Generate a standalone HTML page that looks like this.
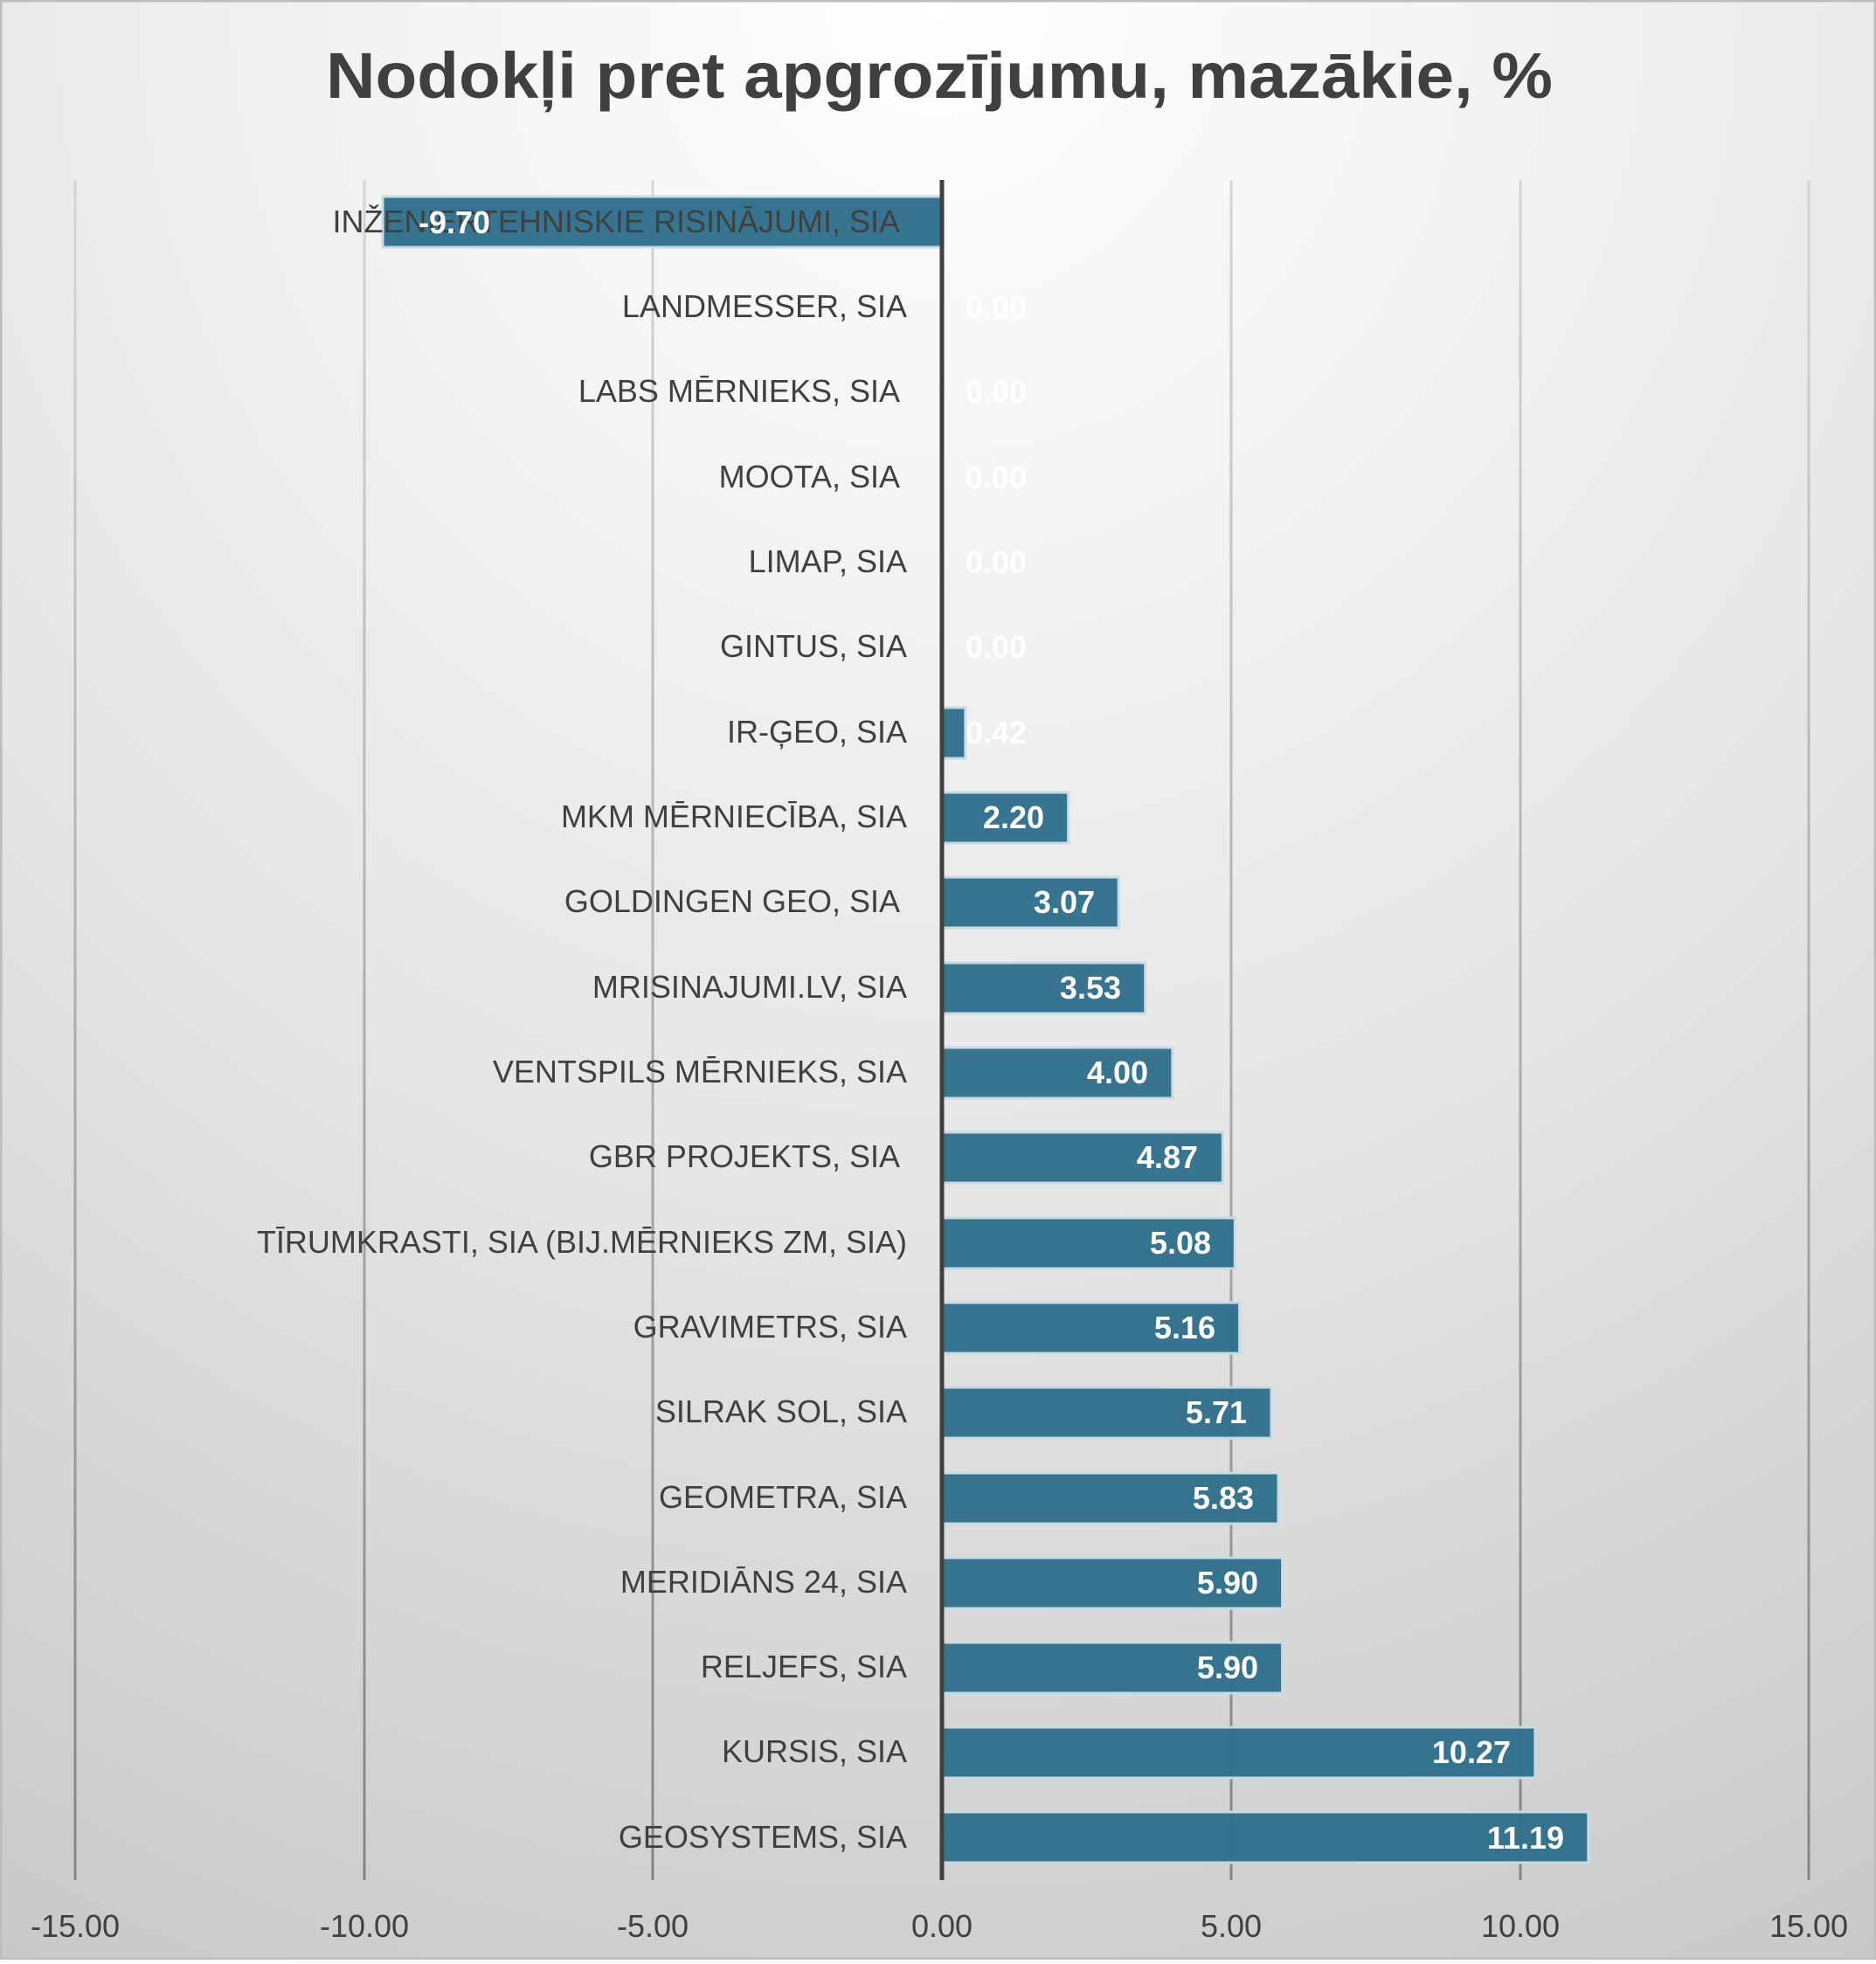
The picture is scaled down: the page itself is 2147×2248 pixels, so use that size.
<!DOCTYPE html>
<html><head><meta charset="utf-8"><style>
html,body{margin:0;padding:0;}
body{width:2147px;height:2243px;overflow:hidden;}
</style></head><body>
<svg width="2147" height="2243" xmlns="http://www.w3.org/2000/svg" font-family="Liberation Sans, sans-serif">
<defs>
<radialGradient id="bg" cx="50%" cy="0%" r="120%" fx="50%" fy="0%">
<stop offset="0" stop-color="#ffffff"/>
<stop offset="0.5" stop-color="#e6e6e6"/>
<stop offset="1" stop-color="#c4c4c4"/>
</radialGradient>
<linearGradient id="gl" gradientUnits="userSpaceOnUse" x1="0" y1="206" x2="0" y2="2152">
<stop offset="0" stop-color="#d6d6d6"/>
<stop offset="1" stop-color="#858585"/>
</linearGradient>
</defs>
<rect x="0" y="0" width="2147" height="2243" fill="url(#bg)"/>
<rect x="1" y="1" width="2145" height="2241" fill="none" stroke="#bdbdbd" stroke-width="3"/>
<text x="1075" y="112" text-anchor="middle" font-size="74" font-weight="bold" fill="#404040" textLength="1404" lengthAdjust="spacingAndGlyphs">Nodokļi pret apgrozījumu, mazākie, %</text>
<g stroke="url(#gl)" stroke-width="3">
<line x1="86" y1="206" x2="86" y2="2152"/>
<line x1="417" y1="206" x2="417" y2="2152"/>
<line x1="747" y1="206" x2="747" y2="2152"/>
<line x1="1409" y1="206" x2="1409" y2="2152"/>
<line x1="1740" y1="206" x2="1740" y2="2152"/>
<line x1="2070" y1="206" x2="2070" y2="2152"/>
</g>
<g fill="#30708c" stroke="#c8dbe4" stroke-width="3" fill-opacity="0.97">
<rect x="438" y="225" width="639" height="58"/>
<rect x="1077" y="810" width="27.8" height="58"/>
<rect x="1077" y="907" width="145.6" height="58"/>
<rect x="1077" y="1004" width="203.2" height="58"/>
<rect x="1077" y="1102" width="233.7" height="58"/>
<rect x="1077" y="1199" width="264.8" height="58"/>
<rect x="1077" y="1296" width="322.4" height="58"/>
<rect x="1077" y="1394" width="336.3" height="58"/>
<rect x="1077" y="1491" width="341.6" height="58"/>
<rect x="1077" y="1588" width="378" height="58"/>
<rect x="1077" y="1686" width="386" height="58"/>
<rect x="1077" y="1783" width="390.6" height="58"/>
<rect x="1077" y="1880" width="390.6" height="58"/>
<rect x="1077" y="1977" width="679.9" height="58"/>
<rect x="1077" y="2074" width="740.8" height="58"/>
</g>
<line x1="1078" y1="206" x2="1078" y2="2152" stroke="#404040" stroke-width="5"/>
<g font-size="36" fill="#404040" text-anchor="end">
<text x="1030" y="266">INŽENIERTEHNISKIE RISINĀJUMI, SIA</text>
<text x="1038" y="363">LANDMESSER, SIA</text>
<text x="1030" y="460">LABS MĒRNIEKS, SIA</text>
<text x="1030" y="558">MOOTA, SIA</text>
<text x="1038" y="655">LIMAP, SIA</text>
<text x="1038" y="752">GINTUS, SIA</text>
<text x="1038" y="850">IR-ĢEO, SIA</text>
<text x="1038" y="947">MKM MĒRNIECĪBA, SIA</text>
<text x="1030" y="1044">GOLDINGEN GEO, SIA</text>
<text x="1038" y="1142">MRISINAJUMI.LV, SIA</text>
<text x="1038" y="1239">VENTSPILS MĒRNIEKS, SIA</text>
<text x="1030" y="1336">GBR PROJEKTS, SIA</text>
<text x="1038" y="1434">TĪRUMKRASTI, SIA (BIJ.MĒRNIEKS ZM, SIA)</text>
<text x="1038" y="1531">GRAVIMETRS, SIA</text>
<text x="1038" y="1628">SILRAK SOL, SIA</text>
<text x="1038" y="1726">GEOMETRA, SIA</text>
<text x="1038" y="1823">MERIDIĀNS 24, SIA</text>
<text x="1038" y="1920">RELJEFS, SIA</text>
<text x="1038" y="2017">KURSIS, SIA</text>
<text x="1038" y="2115">GEOSYSTEMS, SIA</text>
</g>
<g font-size="36" font-weight="bold" fill="#ffffff">
<text x="479" y="267">-9.70</text>
<text x="1105" y="364">0.00</text>
<text x="1105" y="461">0.00</text>
<text x="1105" y="559">0.00</text>
<text x="1105" y="656">0.00</text>
<text x="1105" y="753">0.00</text>
<text x="1105" y="851">0.42</text>
</g>
<g font-size="36" font-weight="bold" fill="#ffffff" text-anchor="end">
<text x="1195" y="948">2.20</text>
<text x="1253" y="1045">3.07</text>
<text x="1283" y="1143">3.53</text>
<text x="1314" y="1240">4.00</text>
<text x="1371" y="1337">4.87</text>
<text x="1386" y="1435">5.08</text>
<text x="1391" y="1532">5.16</text>
<text x="1427" y="1629">5.71</text>
<text x="1435" y="1727">5.83</text>
<text x="1440" y="1824">5.90</text>
<text x="1440" y="1921">5.90</text>
<text x="1729" y="2018">10.27</text>
<text x="1790" y="2116">11.19</text>
</g>
<g font-size="36" fill="#404040" text-anchor="middle">
<text x="86" y="2217">-15.00</text>
<text x="417" y="2217">-10.00</text>
<text x="747" y="2217">-5.00</text>
<text x="1078" y="2217">0.00</text>
<text x="1409" y="2217">5.00</text>
<text x="1740" y="2217">10.00</text>
<text x="2070" y="2217">15.00</text>
</g>
</svg>
</body></html>
